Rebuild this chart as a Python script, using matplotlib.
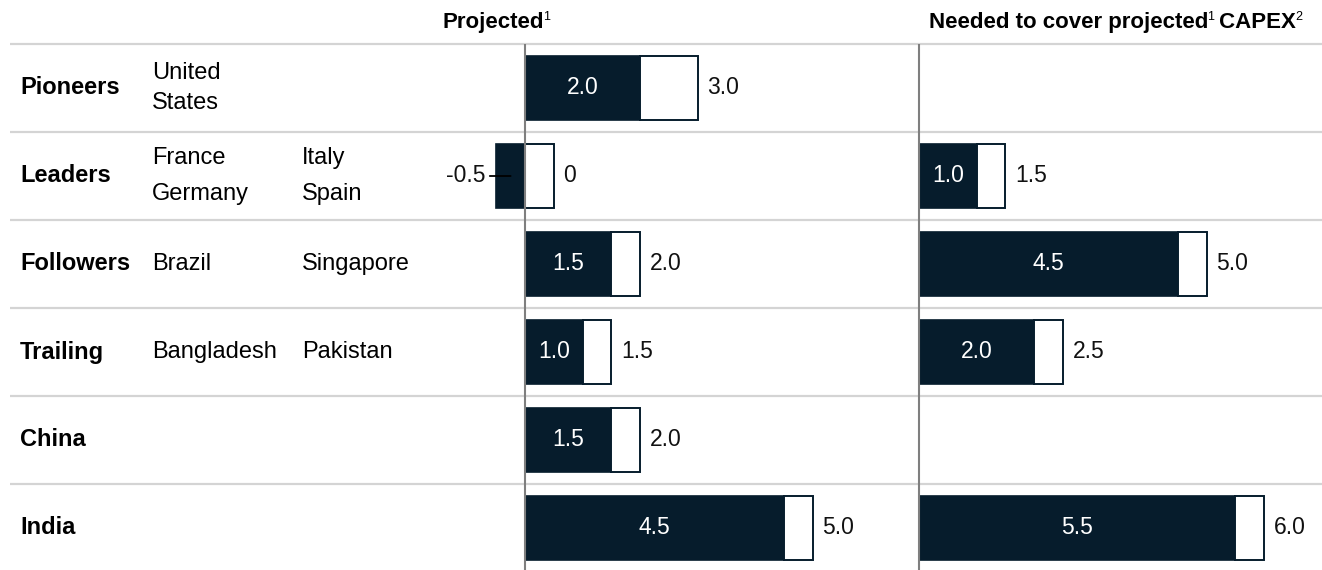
import matplotlib
matplotlib.use("Agg")
import matplotlib.pyplot as plt

plt.rcParams['font.family'] = ['Liberation Sans', 'DejaVu Sans']

# data
groups = ["Pioneers", "Leaders", "Followers", "Trailing", "China", "India"]
countries_a = [["United\nStates"], ["France", "Germany"], ["Brazil"], ["Bangladesh"], [], []]
countries_b = [[], ["Italy", "Spain"], ["Singapore"], ["Pakistan"], [], []]

proj_base = [2.0, -0.5, 1.5, 1.0, 1.5, 4.5]
proj_total = [3.0, 0.0, 2.0, 1.5, 2.0, 5.0]
need_base = [None, 1.0, 4.5, 2.0, None, 5.5]
need_total = [None, 1.5, 5.0, 2.5, None, 6.0]

dark = '#061c2c'
grid = '#d4d4d4'
axis_grey = '#7f7f7f'
fs = 17
vfs = 16.5

W, H = 1322, 570
fig = plt.figure(figsize=(W / 100, H / 100), dpi=100)

# background axes in pixel units for text and separators
bg = fig.add_axes([0, 0, 1, 1])
bg.set_xlim(0, W)
bg.set_ylim(H, 0)
bg.axis('off')

top, row_h = 44, 88
for k in range(len(groups)):
    y = top + k * row_h
    bg.plot([10, W], [y, y], color=grid, lw=1.6, solid_capstyle='butt')

for i, g in enumerate(groups):
    yc = top + row_h / 2 + i * row_h
    bg.text(20, yc, g, fontsize=fs, fontweight='bold', va='center', ha='left')
    for x, names in ((152, countries_a[i]), (302, countries_b[i])):
        if len(names) == 1:
            bg.text(x, yc, names[0], fontsize=fs, va='center', ha='left', linespacing=1.45)
        elif len(names) == 2:
            bg.text(x, yc - 18, names[0], fontsize=fs, va='center', ha='left')
            bg.text(x, yc + 18, names[1], fontsize=fs, va='center', ha='left')


def fmt(v):
    return "0" if v == 0 else f"{v:.1f}"


def panel(x0_px, xmin, xmax, base, total):
    ax = fig.add_axes([x0_px / W, 0, (xmax - xmin) * 57.5 / W, (H - top) / H])
    ax.set_xlim(xmin, xmax)
    ax.set_ylim((H - top - row_h / 2) / row_h, -0.5)
    ax.axis('off')
    ax.patch.set_alpha(0)
    ax.axvline(0, color=axis_grey, lw=1.5, zorder=5)
    for i, (b, t) in enumerate(zip(base, total)):
        if b is None:
            continue
        ax.barh(i, b, height=0.73, color=dark, edgecolor=dark, lw=1.2, zorder=2)
        start = max(b, 0)
        ax.barh(i, t - b, left=start, height=0.73, color='white',
                edgecolor=dark, lw=1.4, zorder=3)
        ax.annotate(fmt(t), (start + t - b, i), xytext=(7, 0), textcoords='offset points',
                    fontsize=vfs, va='center', ha='left', color='#111111')
        if b > 0:
            ax.text(b / 2, i, fmt(b), fontsize=vfs, va='center', ha='center', color='white', zorder=4)
        else:
            ax.annotate(fmt(b), (b, i), xytext=(-8, 0), textcoords='offset points',
                        fontsize=vfs, va='center', ha='right', color='#111111')
            ax.annotate('', (b + 0.25, i), xytext=(-15, 0), textcoords='offset points',
                        arrowprops=dict(arrowstyle='-', color='black', lw=1.3,
                                        shrinkA=0, shrinkB=0), zorder=4)
    return ax


panel(525 - 2 * 57.5, -2, 6, proj_base, proj_total)
panel(919 - 1 * 57.5, -1, 6.99, need_base, need_total)

# headers with superscripts
fig.canvas.draw()
r = fig.canvas.get_renderer()


def header(x, pieces, y=28):
    for s, sup in pieces:
        if sup:
            t = bg.text(x, y - 8, s, fontsize=9, va='baseline', ha='left')
        else:
            t = bg.text(x, y, s, fontsize=16, fontweight='bold', va='baseline', ha='left')
        x += t.get_window_extent(r).width - 1


header(443, [("Projected", False), ("1", True)])
header(929, [("Needed to cover projected", False), ("1", True), (" CAPEX", False), ("2", True)])

fig.savefig("out.png", dpi=100)
